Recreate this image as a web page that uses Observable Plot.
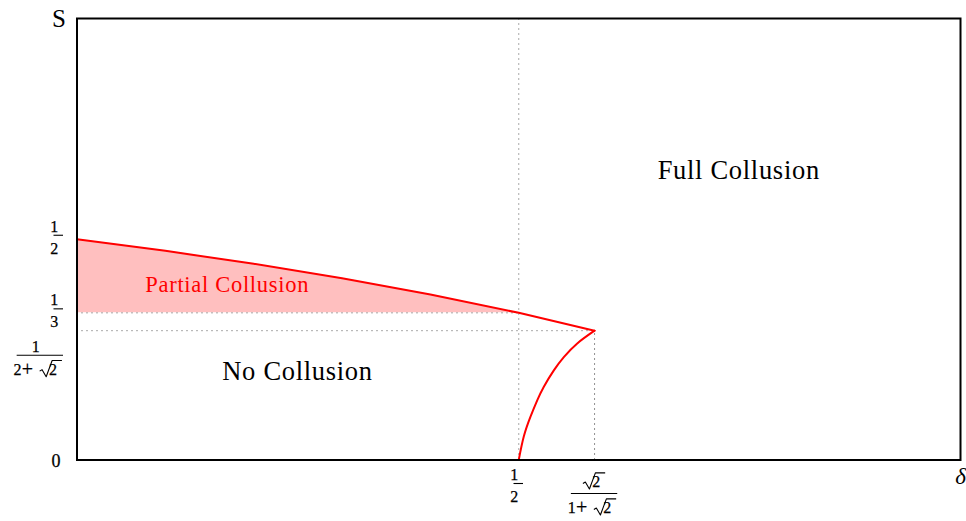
<!DOCTYPE html>
<html>
<head>
<meta charset="utf-8">
<script src="https://cdn.jsdelivr.net/npm/d3@7"></script>
<script src="https://cdn.jsdelivr.net/npm/@observablehq/plot@0.6"></script>
<style>
  body { margin: 0; background: #fff; }
  #chart svg { display: block; }
</style>
</head>
<body>
<div id="chart"></div>
<script>
// Boundary between partial/no collusion and full collusion (upper red curve)
const deltaUpper = [0, 0.1, 0.2, 0.3, 0.4, 0.5, 0.5858];
const sUpper = [0.5, 0.4737, 0.4444, 0.4118, 0.375, 0.3333, 0.2929];

// Boundary between no collusion and full collusion (lower red curve)
const deltaLower = [0.5, 0.5057, 0.5133, 0.5209, 0.5284, 0.5397, 0.551, 0.5662, 0.5858];
const sLower = [0, 0.053, 0.098, 0.135, 0.166, 0.203, 0.233, 0.264, 0.2929];

// Partial collusion band: under the upper curve, above S = 1/3, for δ ≤ 1/2
const deltaPartial = [0, 0.1, 0.2, 0.3, 0.4, 0.5];
const sPartialTop = [0.5, 0.4737, 0.4444, 0.4118, 0.375, 0.3333];
const sPartialBase = 0.3333;

// Reference values
const deltaHalf = 0.5;
const deltaKink = 0.5858;   // √2 / (1 + √2)
const sKink = 0.2929;       // 1 / (2 + √2)

// Tick labels (numerator / denominator)
const xTickValues = [0.5, 0.5858];
const xTickNums = ["1", "√2"];
const xTickDens = ["2", "1+√2"];
const yTickValues = [0, 0.2929, 0.3333, 0.5];
const yTickNums = ["0", "1", "1", "1"];
const yTickDens = [null, "2+√2", "3", "2"];

// Region names and their anchor points in (δ, S)
const regionNames = ["Full Collusion", "No Collusion", "Partial Collusion"];
const regionDelta = [0.749, 0.2496, 0.170];
const regionS = [0.656, 0.20, 0.397];

const upper = deltaUpper.map((d, i) => ({delta: d, s: sUpper[i]}));
const lower = deltaLower.map((d, i) => ({delta: d, s: sLower[i]}));
const partial = deltaPartial.map((d, i) => ({delta: d, top: sPartialTop[i], base: sPartialBase}));
const regions = regionNames.map((name, i) => ({name, delta: regionDelta[i], s: regionS[i]}));

const SERIF = '"Liberation Serif", "DejaVu Serif", serif';
const RED = "#ff0000";
const DOT = {stroke: "#555", strokeWidth: 1, strokeDasharray: "1,4"};

// --- small math typesetting helpers for the fraction tick labels ---
const measureCtx = document.createElement("canvas").getContext("2d");
function textWidth(str, size) {
  measureCtx.font = `${size}px ${SERIF}`;
  return measureCtx.measureText(str).width;
}

// Lay out a string of digits, "+" and "√" as pieces; returns total width.
function layoutMath(str, size) {
  const pieces = [];
  let x = 0;
  const chars = [...str];
  for (let i = 0; i < chars.length; i++) {
    const c = chars[i];
    if (c === "+") {
      const gap = size * 0.12;
      x += gap;
      const w = textWidth("+", size * 1.25);
      pieces.push({type: "text", text: "+", x, size: size * 1.25});
      x += w + gap * 0.4;
    } else if (c === "√") {
      const rad = chars[++i];
      const rw = size * 0.85;
      const w = textWidth(rad, size);
      pieces.push({type: "radical", x, rw, w});
      pieces.push({type: "text", text: rad, x: x + rw, size});
      x += rw + w + size * 0.08;
    } else {
      const w = textWidth(c, size);
      pieces.push({type: "text", text: c, x, size});
      x += w;
    }
  }
  return {pieces, width: x};
}

// Draw a math string with its horizontal position given by anchor and vertical centre cy.
function drawMath(g, str, x, cy, size, anchor = "middle") {
  const {pieces, width} = layoutMath(str, size);
  const x0 = anchor === "middle" ? x - width / 2 : anchor === "end" ? x - width : x;
  const base = cy + size * 0.34;
  const top = cy - size * 0.34;
  for (const p of pieces) {
    if (p.type === "text") {
      g.append("text")
        .attr("x", x0 + p.x).attr("y", base + (p.text === "+" ? size * 0.06 : 0))
        .attr("font-family", SERIF).attr("font-size", p.size)
        .attr("fill", "black").attr("stroke", "black").attr("stroke-width", 0.25)
        .text(p.text);
    } else {
      const xr = x0 + p.x + p.rw;
      const ot = top - size * 0.2;
      const path = d3.path();
      path.moveTo(xr - p.rw * 0.98, cy + size * 0.12);
      path.lineTo(xr - p.rw * 0.80, cy + size * 0.03);
      path.lineTo(xr - p.rw * 0.50, cy + size * 0.47);
      path.lineTo(xr - p.rw * 0.06, ot);
      path.lineTo(xr + p.w + size * 0.06, ot);
      g.append("path").attr("d", path.toString())
        .attr("fill", "none").attr("stroke", "black").attr("stroke-width", 1.1)
        .attr("stroke-linejoin", "round");
    }
  }
  return width;
}

// Draw a stacked fraction with the bar at barY.
function drawFrac(g, num, den, x, barY, size, anchor = "middle") {
  const wn = layoutMath(num, size).width;
  const wd = layoutMath(den, size).width;
  const w = Math.max(wn, wd) + 1.5;
  const cx = anchor === "end" ? x - w / 2 : x;
  const numRad = num.includes("√");
  const denRad = den.includes("√");
  drawMath(g, num, cx, barY - (numRad ? 12 : 9), size);
  drawMath(g, den, cx, barY + (denRad ? 14 : 13), size);
  g.append("line")
    .attr("x1", cx - w / 2).attr("x2", cx + w / 2)
    .attr("y1", barY).attr("y2", barY)
    .attr("stroke", "black").attr("stroke-width", 1.1);
}

// Custom mark: fraction tick labels on both axes, positioned through the plot's scales.
function tickLabels(index, scales, values, dimensions) {
  const g = d3.create("svg:g");
  const size = 16;
  const left = dimensions.marginLeft;
  const bottom = dimensions.height - dimensions.marginBottom;
  const ly = left - 13.5;
  yTickValues.forEach((v, i) => {
    const py = scales.y(v);
    const num = yTickNums[i], den = yTickDens[i];
    if (den == null) {
      drawMath(g, num, ly + 2, py + 1, size + 2, "end");
    } else if (den.includes("√")) {
      // the wide radical label sits just below its tick to clear the 1/3 label
      drawFrac(g, num, den, ly, py + 25, size, "end");
    } else {
      drawFrac(g, num, den, ly, py - 3.5, size, "end");
    }
  });
  xTickValues.forEach((v, i) => {
    const px = scales.x(v);
    const num = xTickNums[i], den = xTickDens[i];
    const bar = num.includes("√") ? bottom + 34 : bottom + 24;
    drawFrac(g, num, den, px, bar, size);
  });
  return g.node();
}

const chart = Plot.plot({
  width: 966,
  height: 521,
  marginLeft: 76.5,
  marginRight: 6,
  marginTop: 18,
  marginBottom: 61.5,
  x: {domain: [0, 1], axis: null},
  y: {domain: [0, 1], axis: null},
  style: {background: "white"},
  marks: [
    Plot.areaY(partial, {x: "delta", y1: "base", y2: "top", fill: "#ffbfbf"}),
    Plot.ruleX([deltaHalf], {x: d => d, y1: 0, y2: 1, ...DOT}),
    Plot.ruleX([deltaKink], {x: d => d, y1: 0, y2: sKink, ...DOT, stroke: "#222"}),
    Plot.ruleY([sKink], {y: d => d, x1: 0, x2: deltaKink, ...DOT}),
    Plot.ruleY([sPartialBase], {y: d => d, x1: 0, x2: deltaHalf, ...DOT}),
    Plot.line(upper, {x: "delta", y: "s", stroke: RED, strokeWidth: 2}),
    Plot.line(lower, {x: "delta", y: "s", stroke: RED, strokeWidth: 2, curve: "natural"}),
    Plot.text(regions, {
      x: "delta", y: "s", text: "name",
      fill: d => d.name === "Partial Collusion" ? RED : "black",
      fontSize: d => d.name === "Partial Collusion" ? 22.5 : 26.5,
      fontFamily: SERIF, textAnchor: "middle", lineAnchor: "middle"
    }),
    Plot.text(["S"], {frameAnchor: "top-left", dx: -18, text: d => d, fontSize: 25,
      fontFamily: SERIF, textAnchor: "middle", lineAnchor: "middle", fill: "black"}),
    Plot.text(["δ"], {frameAnchor: "bottom-right", dy: 17, text: d => d, fontSize: 23,
      fontStyle: "italic", fontFamily: SERIF, textAnchor: "middle", lineAnchor: "middle", fill: "black"}),
    Plot.frame({stroke: "black", strokeWidth: 2}),
    tickLabels
  ]
});

// Garamond-like wide setting for the region names
d3.select(chart).selectAll("text")
  .filter(function () { return regionNames.includes(this.textContent); })
  .attr("letter-spacing", "0.7px");

document.getElementById("chart").append(chart);
</script>
</body>
</html>
